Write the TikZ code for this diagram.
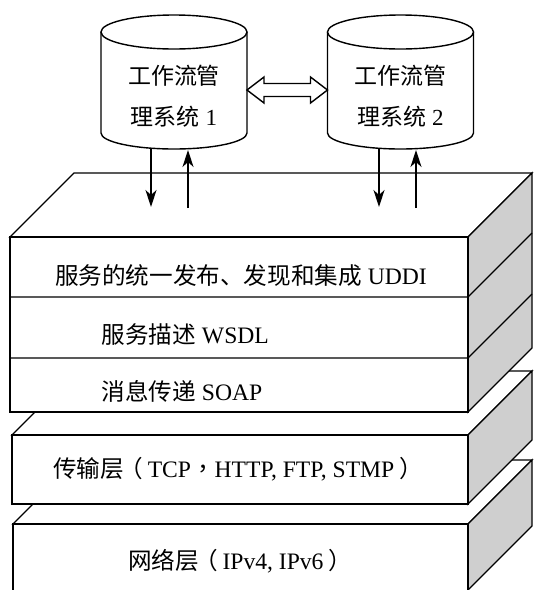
\documentclass[tikz,border=0pt]{standalone}
\usepackage{fontspec}
\setmainfont{Liberation Serif}
\newfontfamily\cjk{Noto Sans CJK SC}
\newfontfamily\cjkp{Noto Sans CJK TC}
\newcommand\lpar{\hspace{-0.2em}{\cjkp （}\hspace{0.2em}}
\newcommand\rpar{\hspace{0.2em}{\cjkp ）}\hspace{-0.2em}}
\usetikzlibrary{arrows.meta,calc}
\definecolor{sidegray}{RGB}{207,207,207}
\tikzset{
  face/.style={draw=black, fill=white, line join=miter},
  sideface/.style={draw=black, fill=sidegray, line join=miter},
  lbl/.style={anchor=base, inner sep=0pt, font=\fontsize{23.6}{28}\selectfont},
  lblw/.style={anchor=base west, inner sep=0pt, font=\fontsize{23.6}{28}\selectfont},
  cyllbl/.style={anchor=base, inner sep=0pt, font=\fontsize{23}{28}\selectfont},
  arr/.style={-{Stealth[length=17pt,width=11pt,inset=5pt]}},
  dblarrow/.style={draw=black, fill=white, line join=miter}
}
\begin{document}
\begin{tikzpicture}[x=1pt,y=-1pt,line width=1.4pt]
\useasboundingbox (0,0) rectangle (534,590);
\fill[white] (0,0) rectangle (534,590);

% ---- network layer
\draw[face] (13,524) -- (77,460) -- (532,460) -- (468,524) -- cycle;
\draw[sideface] (468,524) -- (532,460) -- (532,526) -- (468,590) -- cycle;
\draw[face] (13,600) -- (13,524) -- (468,524) -- (468,600);
\node[lbl] (net) at (240,569) {{\cjk 网络层}\lpar IPv4, IPv6\rpar};

% ---- transport layer
\draw[face] (12,435) -- (76,371) -- (532,371) -- (468,435) -- cycle;
\draw[sideface] (468,435) -- (532,371) -- (532,440) -- (468,504) -- cycle;
\draw[face] (12,435) rectangle (468,504);
\node[lbl] (tcp) at (238,477) {{\cjk 传输层}\lpar TCP{\cjkp ，}HTTP, FTP, STMP\rpar};

% ---- top stack (UDDI / WSDL / SOAP)
\draw[face] (10,237) -- (74,173) -- (532,173) -- (468,237) -- cycle;
\draw[sideface] (468,237) -- (532,173) -- (532,348) -- (468,412) -- cycle;
\draw[face] (10,237) rectangle (468,412);
\draw (10,297) -- (468,297) -- (532,233);
\draw (10,358) -- (468,358) -- (532,294);
\node[lbl] (uddi) at (241,284) {{\cjk 服务的统一发布、发现和集成} UDDI};
\node[lblw] (wsdl) at (101,343) {{\cjk 服务描述} WSDL};
\node[lblw] (soap) at (101,400) {{\cjk 消息传递} SOAP};

% ---- cylinder 1
\draw[fill=white] (101,32) -- (101,133) .. controls (101,141.8) and (133.7,149) .. (174,149)
  .. controls (214.3,149) and (247,141.8) .. (247,133) -- (247,32);
\draw[fill=white] (174,32) ellipse [x radius=73, y radius=17];
\node[cyllbl] (c1a) at (174,84) {\cjk 工作流管};
\node[cyllbl] (c1b) at (174,125) {{\cjk 理系统} 1};

% ---- cylinder 2
\draw[fill=white] (327.5,32) -- (327.5,133) .. controls (327.5,141.8) and (360.2,149) .. (400.5,149)
  .. controls (440.8,149) and (473.5,141.8) .. (473.5,133) -- (473.5,32);
\draw[fill=white] (400.5,32) ellipse [x radius=73, y radius=17];
\node[cyllbl] (c2a) at (400.5,84) {\cjk 工作流管};
\node[cyllbl] (c2b) at (400.5,125) {{\cjk 理系统} 2};

% ---- double hollow arrow between cylinders
\coordinate (c1e) at (247,90);
\coordinate (c2w) at (327.5,90);
\draw[dblarrow] (c1e) -- ($(c1e)+(17,-13)$) -- ($(c1e)+(17,-6.5)$) -- ($(c2w)+(-17,-6.5)$)
  -- ($(c2w)+(-17,-13)$) -- (c2w) -- ($(c2w)+(-17,13)$) -- ($(c2w)+(-17,6.5)$)
  -- ($(c1e)+(17,6.5)$) -- ($(c1e)+(17,13)$) -- cycle;

% ---- vertical arrows
\coordinate (d1s) at (151,148); \coordinate (d1e) at (151,207);
\coordinate (u1s) at (188,208); \coordinate (u1e) at (188,150);
\coordinate (d2s) at (379,148); \coordinate (d2e) at (379,207);
\coordinate (u2s) at (416,208); \coordinate (u2e) at (416,150);
\draw[arr] (d1s) -- (d1e);
\draw[arr] (u1s) -- (u1e);
\draw[arr] (d2s) -- (d2e);
\draw[arr] (u2s) -- (u2e);
\end{tikzpicture}
\end{document}
